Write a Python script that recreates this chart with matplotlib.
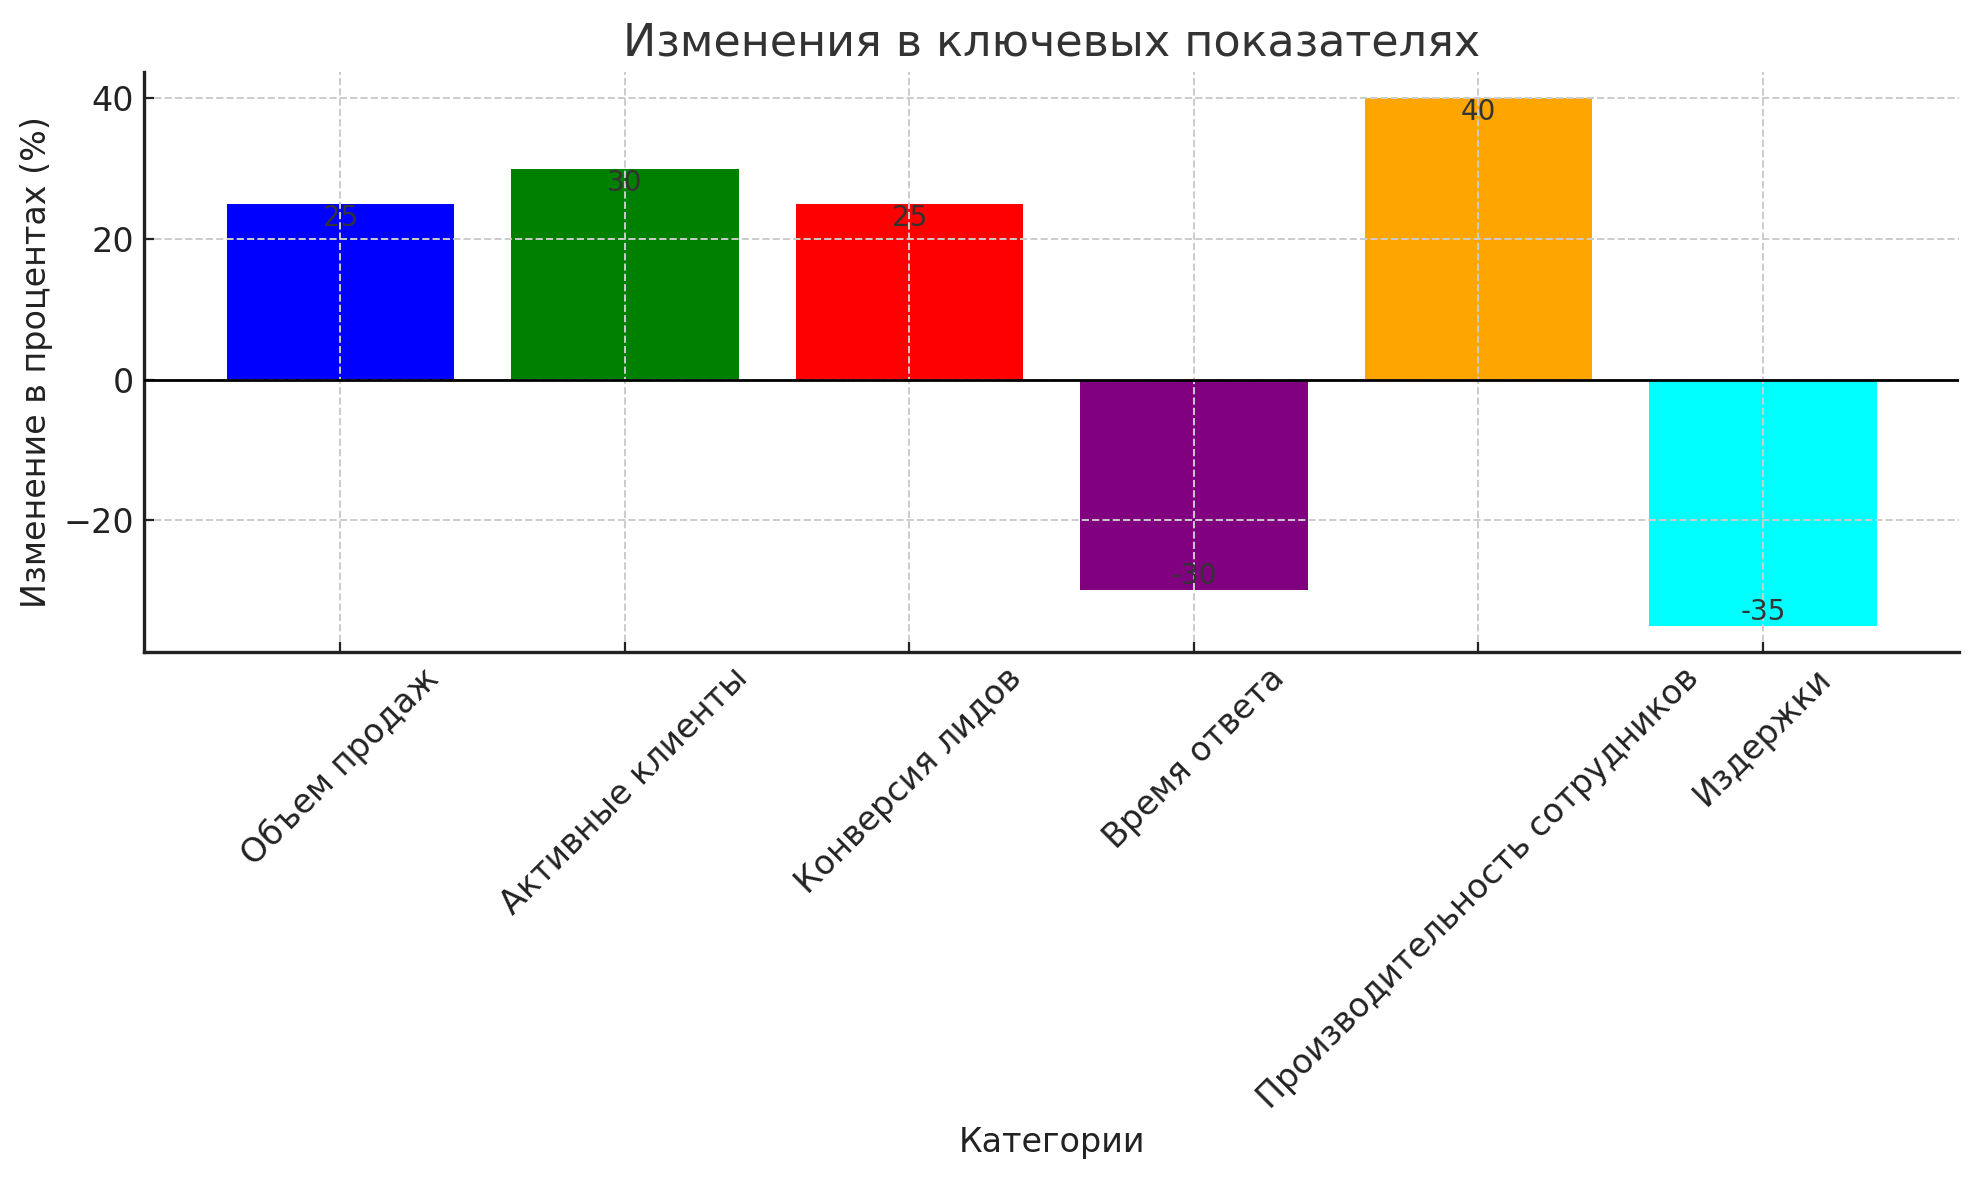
import matplotlib.pyplot as plt

# Данные
categories = ['Объем продаж', 'Активные клиенты', 'Конверсия лидов',
              'Время ответа', 'Производительность сотрудников', 'Издержки']
changes = [25, 30, 25, -30, 40, -35]
colors = ['blue', 'green', 'red', 'purple', 'orange', 'cyan']

plt.rcParams['font.family'] = ['DejaVu Sans']

fig, ax = plt.subplots(figsize=(1979 / 200, 1180 / 200), dpi=200)
fig.subplots_adjust(left=0.0728, right=0.990, top=0.939, bottom=0.4475)

bars = ax.bar(categories, changes, color=colors, width=0.8)

# Подписи значений
for bar, val in zip(bars, changes):
    x = bar.get_x() + bar.get_width() / 2
    ax.text(x, val, f'{val}', ha='center',
            va='top' if val > 0 else 'bottom', fontsize=10, color='#333333')

ax.axhline(0, color='black', linewidth=1, zorder=5)
ax.set_title('Изменения в ключевых показателях', fontsize=16, color='#333333')
ax.set_xlabel('Категории', fontsize=12, color='#222222')
ax.set_ylabel('Изменение в процентах (%)', fontsize=12, color='#222222')
ax.tick_params(axis='both', labelsize=12, colors='#222222', direction='in')
plt.xticks(rotation=45)

ax.grid(True, linestyle='--', color='#cccccc', linewidth=0.7)
ax.set_axisbelow(False)
for side in ['top', 'right']:
    ax.spines[side].set_visible(False)
for side in ['left', 'bottom']:
    ax.spines[side].set_linewidth(1.2)
    ax.spines[side].set_color('#222222')

fig.savefig('out.png', dpi=200)
